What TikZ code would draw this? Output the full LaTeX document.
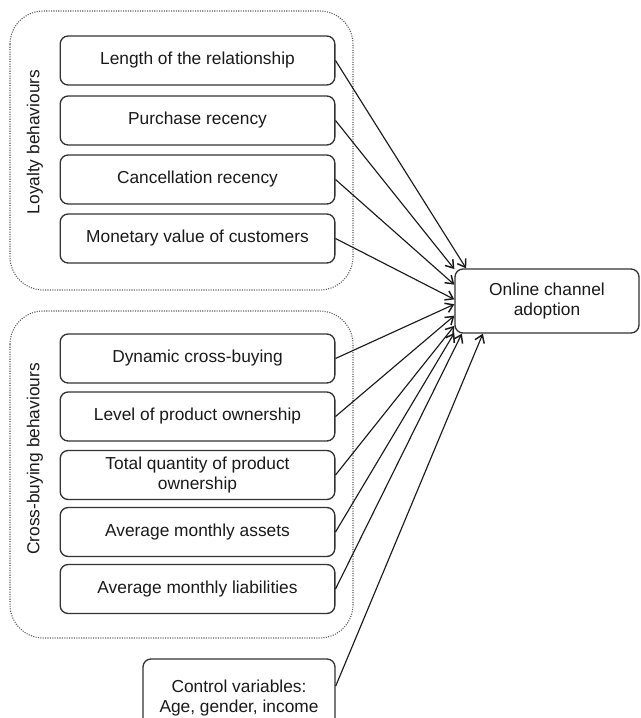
\documentclass[tikz, border=0pt]{standalone}
\usepackage{fontspec}
\setmainfont{Liberation Sans}
\usetikzlibrary{arrows.meta}

\begin{document}
\begin{tikzpicture}[> = {Straight Barb[length = 5.5pt, width = 7.5pt, line width = 1.1pt]}, x = 0.75pt, y = -0.75pt,
	txt/.style = {font = \fontsize{13}{15.6}\selectfont, text = black!90},
	item/.style = {txt, draw = black!80, line width = 1pt, rounded corners = 6pt, minimum width = 206pt, minimum height = 36.75pt, align = center, inner sep = 0pt},
	group/.style = {draw = black!65, densely dotted, line width = 0.8pt, rounded corners = 25pt},
	link/.style = {->, line width = 0.85pt, black!90}]

	\useasboundingbox (0, 0) rectangle (640, 718);

	% Groups

	\draw [group] (10, 11) rectangle (353, 290);
	\draw [group] (10, 311) rectangle (353, 638);

	\node [txt, rotate = 90] (loyalty) at (35, 142) {Loyalty behaviours};
	\node [txt, rotate = 90] (cross) at (35, 459) {Cross-buying behaviours};

	% Loyalty behaviours

	\node [item] (length) at (197.5, 60.5) {Length of the relationship};
	\node [item] (purchase) at (197.5, 120.5) {Purchase recency};
	\node [item] (cancel) at (197.5, 179.5) {Cancellation recency};
	\node [item] (monetary) at (197.5, 238.5) {Monetary value of customers};

	% Cross-buying behaviours

	\node [item] (dynamic) at (197.5, 358.5) {Dynamic cross-buying};
	\node [item] (level) at (197.5, 416.5) {Level of product ownership};
	\node [item] (total) at (197.5, 475) {Total quantity of product\\ownership};
	\node [item] (assets) at (197.5, 532) {Average monthly assets};
	\node [item] (liabilities) at (197.5, 589) {Average monthly liabilities};

	% Control and outcome

	\node [item, minimum width = 144pt, minimum height = 58.5pt] (control) at (239, 698) {Control variables:\\Age, gender, income};
	\node [item, minimum width = 138pt, minimum height = 48pt] (online) at (547, 301) {Online channel\\adoption};

	% Links

	\draw [link] (length.east) -- (online.158);
	\draw [link] (purchase.east) -- (online.161);
	\draw [link] (cancel.east) -- (online.170);
	\draw [link] (monetary.east) -- (online.179);
	\draw [link] (dynamic.east) -- (online.182);
	\draw [link] (level.east) -- (online.189);
	\draw [link] (total.east) -- (online.195);
	\draw [link] (assets.east) -- (online.199);
	\draw [link] (liabilities.east) -- (online.201);
	\draw [link] (control.7) -- (online.207);

\end{tikzpicture}
\end{document}
